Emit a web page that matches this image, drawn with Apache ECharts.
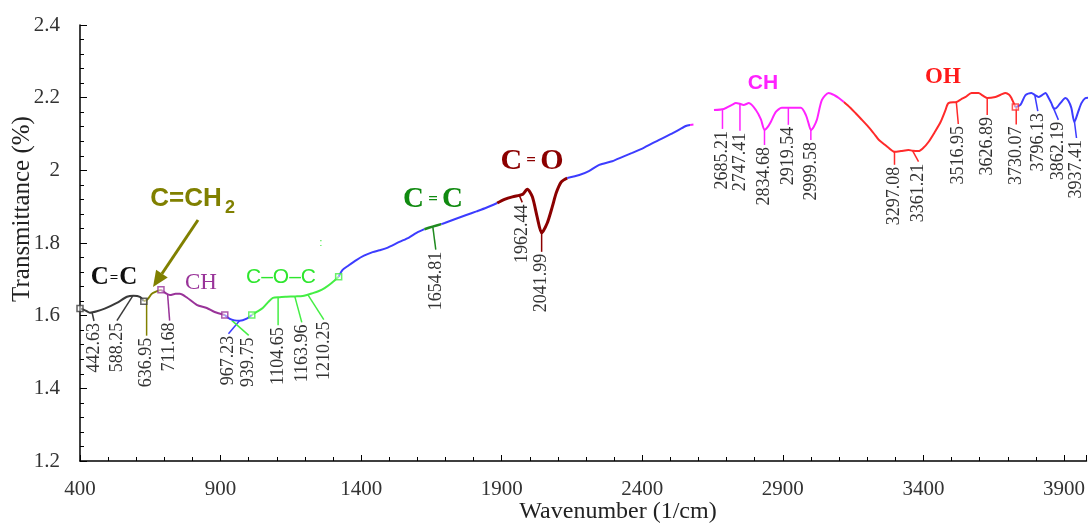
<!DOCTYPE html>
<html>
<head>
<meta charset="utf-8">
<title>FTIR spectrum</title>
<script src="https://cdn.jsdelivr.net/npm/echarts/dist/echarts.min.js"></script>
<style>
  html, body { margin: 0; padding: 0; background: #fff; }
  #chart { width: 1088px; height: 525px; }
</style>
</head>
<body>
<div id="chart"></div>
<script>
// Spectrum traces: [wavenumber (1/cm), transmittance]
const blackTrace = [[400,1.620],[420,1.614],[435,1.608],[460,1.612],[490,1.620],[531,1.635],[567,1.652],[590,1.655],[613,1.652],[627,1.640]];
const oliveTrace = [[627,1.640],[640,1.645],[655,1.660],[666,1.665],[688,1.671]];
const purpleTrace = [[688,1.671],[705,1.662],[720,1.657],[740,1.660],[755,1.660],[780,1.650],[815,1.630],[851,1.621],[879,1.610],[915,1.602]];
const blueTraceA = [[915,1.602],[933,1.591],[950,1.587],[968,1.586],[993,1.592],[1011,1.602]];
const greenTrace = [[1011,1.602],[1030,1.611],[1050,1.621],[1070,1.638],[1086,1.649],[1110,1.651],[1135,1.652],[1165,1.653],[1192,1.654],[1228,1.662],[1250,1.668],[1270,1.676],[1295,1.690],[1320,1.707]];
const blueTraceB = [[1320,1.707],[1334,1.726],[1355,1.738],[1383,1.753],[1410,1.765],[1441,1.775],[1465,1.780],[1490,1.786],[1536,1.803],[1570,1.815],[1597,1.828],[1625,1.838]];
const darkGreenTrace = [[1625,1.838],[1654,1.845],[1685,1.852]];
const blueTraceC = [[1685,1.852],[1697,1.855],[1735,1.866],[1774,1.877],[1810,1.887],[1845,1.897],[1884,1.910]];
const darkRedTrace = [[1884,1.910],[1910,1.920],[1938,1.927],[1962,1.931],[1975,1.934],[1991,1.948],[2009,1.927],[2026,1.872],[2042,1.828],[2062,1.855],[2080,1.900],[2094,1.938],[2112,1.968],[2133,1.979]];
const blueTraceD = [[2133,1.979],[2176,1.987],[2210,1.998],[2247,2.015],[2293,2.025],[2330,2.037],[2364,2.048],[2400,2.060],[2430,2.072],[2460,2.084],[2510,2.103],[2555,2.122],[2570,2.125]];
const magentaTip = [[2570,2.125],[2582,2.126]];
const magentaTrace = [[2655,2.166],[2690,2.169],[2719,2.180],[2733,2.185],[2747,2.183],[2760,2.180],[2779,2.185],[2804,2.166],[2822,2.140],[2835,2.111],[2845,2.118],[2857,2.133],[2875,2.161],[2896,2.172],[2920,2.172],[2964,2.172],[2982,2.152],[2992,2.128],[3000,2.111],[3010,2.120],[3021,2.139],[3039,2.194],[3063,2.213],[3085,2.206],[3099,2.199],[3117,2.188]];
const redTrace = [[3117,2.188],[3140,2.172],[3159,2.157],[3180,2.140],[3205,2.119],[3225,2.100],[3241,2.084],[3260,2.072],[3276,2.062],[3297,2.051],[3320,2.053],[3347,2.056],[3361,2.054],[3383,2.053],[3400,2.062],[3418,2.078],[3440,2.105],[3461,2.133],[3478,2.165],[3489,2.185],[3518,2.188],[3535,2.196],[3550,2.202],[3571,2.213],[3596,2.213],[3610,2.206],[3627,2.199],[3656,2.202],[3675,2.208],[3692,2.213],[3705,2.208],[3713,2.199],[3727,2.174]];
const blueTraceE = [[3727,2.174],[3745,2.180],[3763,2.207],[3784,2.213],[3797,2.207],[3809,2.202],[3822,2.207],[3834,2.213],[3845,2.200],[3855,2.185],[3862,2.172],[3869,2.170],[3887,2.185],[3905,2.199],[3915,2.192],[3926,2.172],[3937,2.133],[3950,2.160],[3962,2.185],[3976,2.199],[3990,2.200]];

// Segment joints drawn as small square markers
const jointPoints = [[400,1.620],[627,1.640],[688,1.671],[915,1.602],[1011,1.602],[1320,1.707],[3727,2.174]];
const jointColors = ['black','black','purple','purple','green','green','red'];

// Assigned peaks
const peakWavenumbers = [442.63,588.25,636.95,711.68,967.23,939.75,1104.65,1163.96,1210.25,1654.81,1962.44,2041.99,2685.21,2747.41,2834.68,2919.54,2999.58,3297.08,3361.21,3516.95,3626.89,3730.07,3796.13,3862.19,3937.41];
const peakTransmittance = [1.610,1.655,1.644,1.658,1.586,1.587,1.651,1.653,1.658,1.845,1.931,1.828,2.169,2.183,2.111,2.172,2.111,2.051,2.054,2.188,2.199,2.176,2.207,2.172,2.133];
const peakColors = ['black','black','olive','purple','blue','green','green','green','green','darkGreen','darkRed','darkRed','magenta','magenta','magenta','magenta','magenta','red','red','red','red','red','blue','blue','blue'];

// Leader layout (pixels): horizontal shift of the label and leader length
const peakTextShift = [2,-16,0,2,-11,17,0,7,16,3,3,0,0,0,0,0,0,0,6,2,0,0,3,5,2];
const peakLeader = [9,25,36,26,13,15,28,26,25,23,7,19,20,27,15,17,10,13,11,22,17,18,16,12,16];

const palette = {
  black: '#3a3a3a', olive: '#808000', purple: '#993399', blue: '#3c3cff',
  green: '#44ee44', darkGreen: '#1f8a1f', darkRed: '#8b0000',
  magenta: '#ff22ff', red: '#ff2a2a'
};

const serif = '"Liberation Serif", "Times New Roman", serif';
const sans = '"Liberation Sans", Arial, sans-serif';

function trace(data, color, width) {
  return {
    type: 'line', data: data, showSymbol: false, smooth: 0.25,
    lineStyle: { color: color, width: width || 2 }, z: 3, silent: true
  };
}

const peakData = peakWavenumbers.map((w, i) => [w, peakTransmittance[i], i]);

function renderPeak(params, api) {
  const i = api.value(2);
  const p = api.coord([api.value(0), api.value(1)]);
  const color = palette[peakColors[i]];
  const tx = p[0] + peakTextShift[i];
  const ty = p[1] + peakLeader[i];
  return {
    type: 'group',
    children: [
      { type: 'line', shape: { x1: p[0], y1: p[1], x2: tx, y2: ty },
        style: { stroke: color, lineWidth: 1.5 } },
      { type: 'text', x: tx, y: ty + 2, rotation: Math.PI / 2,
        style: { text: peakWavenumbers[i].toFixed(2), font: '18px ' + serif,
                 fill: '#333', align: 'right', verticalAlign: 'middle' } }
    ]
  };
}

// Arrow pointing at the C=CH2 band
const arrowFrom = [198, 220], arrowTip = [153, 287];
const adx = arrowTip[0] - arrowFrom[0], ady = arrowTip[1] - arrowFrom[1];
const alen = Math.hypot(adx, ady), ux = adx / alen, uy = ady / alen;
const headLen = 16, headHalf = 7;
const baseX = arrowTip[0] - ux * headLen, baseY = arrowTip[1] - uy * headLen;

const chart = echarts.init(document.getElementById('chart'), null, { renderer: 'canvas' });

chart.setOption({
  animation: false,
  backgroundColor: '#fff',
  grid: { left: 80, right: 0, top: 25, bottom: 64, containLabel: false },
  xAxis: {
    type: 'value', min: 400, max: 3980, interval: 500,
    axisLine: { show: true, onZero: false, lineStyle: { color: '#000', width: 1.5 } },
    axisTick: { show: true, inside: true, length: 6, lineStyle: { color: '#000' } },
    minorTick: { show: true, splitNumber: 5, length: 4, lineStyle: { color: '#000' } },
    splitLine: { show: false },
    axisLabel: { color: '#333', fontFamily: serif, fontSize: 21, margin: 18, showMaxLabel: false,
                 formatter: v => String(v) }
  },
  yAxis: {
    type: 'value', min: 1.2, max: 2.4, interval: 0.2,
    axisLine: { show: true, lineStyle: { color: '#000', width: 1.5 } },
    axisTick: { show: true, inside: true, length: 7, lineStyle: { color: '#000' } },
    minorTick: { show: true, splitNumber: 5, length: 4, lineStyle: { color: '#000' } },
    splitLine: { show: false },
    axisLabel: { color: '#333', fontFamily: serif, fontSize: 21, margin: 20 }
  },
  series: [
    trace(blackTrace, palette.black),
    trace(oliveTrace, palette.olive),
    trace(purpleTrace, palette.purple),
    trace(blueTraceA, palette.blue),
    trace(greenTrace, palette.green),
    trace(blueTraceB, palette.blue),
    trace(darkGreenTrace, palette.darkGreen, 2.5),
    trace(blueTraceC, palette.blue),
    trace(darkRedTrace, palette.darkRed, 3),
    trace(blueTraceD, palette.blue),
    trace(magentaTip, palette.magenta),
    trace(magentaTrace, palette.magenta),
    trace(redTrace, palette.red),
    trace(blueTraceE, palette.blue),
    {
      type: 'scatter', symbol: 'rect', symbolSize: 6, z: 4, silent: true,
      data: jointPoints.map((pt, i) => ({
        value: pt,
        itemStyle: { color: 'rgba(255,255,255,0.6)', borderColor: palette[jointColors[i]], borderWidth: 1.5 }
      }))
    },
    {
      type: 'custom', renderItem: renderPeak, data: peakData, clip: false, z: 2, silent: true
    }
  ],
  graphic: [
    { type: 'text', x: 22, y: 209, rotation: Math.PI / 2,
      style: { text: 'Transmittance (%)', font: '25px ' + serif, fill: '#222', align: 'center', verticalAlign: 'middle' } },
    { type: 'text', x: 618, y: 512,
      style: { text: 'Wavenumber (1/cm)', font: '24px ' + serif, fill: '#222', align: 'center', verticalAlign: 'middle' } },

    // Band assignments
    { type: 'text', x: 114, y: 278,
      style: { text: '{a|C}{e|=}{a|C}', align: 'center', verticalAlign: 'middle', fill: '#111',
               rich: { a: { font: 'bold 25px ' + serif, fill: '#111' }, e: { font: 'bold 15px ' + serif, fill: '#111', padding: [0, 1, 0, 1] } } } },
    { type: 'text', x: 186, y: 199,
      style: { text: 'C=CH', font: 'bold 26px ' + sans, fill: '#808000', align: 'center', verticalAlign: 'middle' } },
    { type: 'text', x: 225, y: 208,
      style: { text: '2', font: 'bold 18px ' + sans, fill: '#808000', align: 'left', verticalAlign: 'middle' } },
    { type: 'line', shape: { x1: arrowFrom[0], y1: arrowFrom[1], x2: baseX, y2: baseY },
      style: { stroke: '#808000', lineWidth: 3 } },
    { type: 'polygon', shape: { points: [arrowTip,
        [baseX + (-uy) * headHalf, baseY + ux * headHalf],
        [baseX - (-uy) * headHalf, baseY - ux * headHalf]] },
      style: { fill: '#808000' } },
    { type: 'text', x: 201, y: 283,
      style: { text: 'CH', font: '23px ' + serif, fill: '#993399', align: 'center', verticalAlign: 'middle' } },
    { type: 'text', x: 281, y: 277,
      style: { text: 'C\u2013O\u2013C', font: '21px ' + sans, fill: '#2ee62e', align: 'center', verticalAlign: 'middle' } },
    { type: 'text', x: 321, y: 243,
      style: { text: ':', font: '10px ' + sans, fill: '#2ee62e', align: 'center', verticalAlign: 'middle' } },
    { type: 'text', x: 433, y: 200,
      style: { text: '{a|C}{e| = }{a|C}', align: 'center', verticalAlign: 'middle',
               rich: { a: { font: 'bold 29px ' + serif, fill: '#108a10' }, e: { font: 'bold 17px ' + serif, fill: '#108a10' } } } },
    { type: 'text', x: 532, y: 161,
      style: { text: '{a|C}{e| = }{a|O}', align: 'center', verticalAlign: 'middle',
               rich: { a: { font: 'bold 30px ' + serif, fill: '#8b0000' }, e: { font: 'bold 17px ' + serif, fill: '#8b0000' } } } },
    { type: 'text', x: 763, y: 83,
      style: { text: 'CH', font: 'bold 21px ' + sans, fill: '#ff22ff', align: 'center', verticalAlign: 'middle' } },
    { type: 'text', x: 943, y: 77,
      style: { text: 'OH', font: 'bold 23px ' + serif, fill: '#ff1a1a', align: 'center', verticalAlign: 'middle' } }
  ]
});
</script>
</body>
</html>
